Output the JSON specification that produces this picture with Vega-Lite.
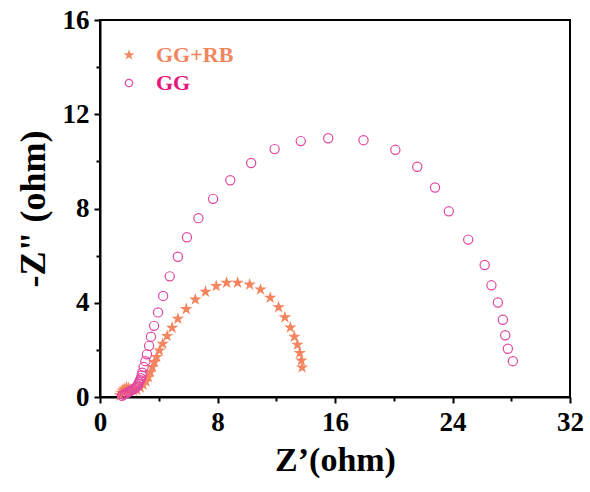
{
  "$schema": "https://vega.github.io/schema/vega-lite/v6.json",
  "width": 470,
  "height": 377,
  "autosize": {"type": "none"},
  "padding": {"left": 100, "top": 20, "right": 20, "bottom": 95},
  "background": "white",
  "config": {
    "view": {"stroke": "black", "strokeWidth": 2},
    "font": "Liberation Serif"
  },
  "data": {
    "values": [
      {"s": "GG+RB", "x": 1.37, "y": 0.07},
      {"s": "GG+RB", "x": 1.45, "y": 0.18},
      {"s": "GG+RB", "x": 1.55, "y": 0.28},
      {"s": "GG+RB", "x": 1.65, "y": 0.35},
      {"s": "GG+RB", "x": 1.8, "y": 0.4},
      {"s": "GG+RB", "x": 1.94, "y": 0.38},
      {"s": "GG+RB", "x": 2.1, "y": 0.32},
      {"s": "GG+RB", "x": 2.29, "y": 0.27},
      {"s": "GG+RB", "x": 2.5, "y": 0.3},
      {"s": "GG+RB", "x": 2.75, "y": 0.4},
      {"s": "GG+RB", "x": 2.93, "y": 0.52},
      {"s": "GG+RB", "x": 3.13, "y": 0.66},
      {"s": "GG+RB", "x": 3.29, "y": 0.84},
      {"s": "GG+RB", "x": 3.43, "y": 1.05},
      {"s": "GG+RB", "x": 3.57, "y": 1.27},
      {"s": "GG+RB", "x": 3.7, "y": 1.48},
      {"s": "GG+RB", "x": 3.86, "y": 1.7},
      {"s": "GG+RB", "x": 4.05, "y": 1.97},
      {"s": "GG+RB", "x": 4.27, "y": 2.26},
      {"s": "GG+RB", "x": 4.57, "y": 2.59},
      {"s": "GG+RB", "x": 4.91, "y": 2.94},
      {"s": "GG+RB", "x": 5.3, "y": 3.32},
      {"s": "GG+RB", "x": 5.87, "y": 3.73},
      {"s": "GG+RB", "x": 6.49, "y": 4.14},
      {"s": "GG+RB", "x": 7.18, "y": 4.47},
      {"s": "GG+RB", "x": 7.91, "y": 4.71},
      {"s": "GG+RB", "x": 8.62, "y": 4.85},
      {"s": "GG+RB", "x": 9.37, "y": 4.85},
      {"s": "GG+RB", "x": 10.19, "y": 4.77},
      {"s": "GG+RB", "x": 10.93, "y": 4.56},
      {"s": "GG+RB", "x": 11.59, "y": 4.21},
      {"s": "GG+RB", "x": 12.16, "y": 3.81},
      {"s": "GG+RB", "x": 12.59, "y": 3.38},
      {"s": "GG+RB", "x": 12.96, "y": 2.95},
      {"s": "GG+RB", "x": 13.23, "y": 2.56},
      {"s": "GG+RB", "x": 13.44, "y": 2.22},
      {"s": "GG+RB", "x": 13.6, "y": 1.87},
      {"s": "GG+RB", "x": 13.71, "y": 1.55},
      {"s": "GG+RB", "x": 13.76, "y": 1.25},
      {"s": "GG", "x": 1.5, "y": 0.05},
      {"s": "GG", "x": 1.6, "y": 0.1},
      {"s": "GG", "x": 1.71, "y": 0.13},
      {"s": "GG", "x": 1.82, "y": 0.17},
      {"s": "GG", "x": 1.94, "y": 0.21},
      {"s": "GG", "x": 2.05, "y": 0.25},
      {"s": "GG", "x": 2.17, "y": 0.3},
      {"s": "GG", "x": 2.28, "y": 0.34},
      {"s": "GG", "x": 2.4, "y": 0.38},
      {"s": "GG", "x": 2.49, "y": 0.43},
      {"s": "GG", "x": 2.56, "y": 0.49},
      {"s": "GG", "x": 2.62, "y": 0.56},
      {"s": "GG", "x": 2.67, "y": 0.63},
      {"s": "GG", "x": 2.73, "y": 0.71},
      {"s": "GG", "x": 2.79, "y": 0.8},
      {"s": "GG", "x": 2.84, "y": 0.91},
      {"s": "GG", "x": 2.88, "y": 1.03},
      {"s": "GG", "x": 2.97, "y": 1.27},
      {"s": "GG", "x": 3.09, "y": 1.52},
      {"s": "GG", "x": 3.2, "y": 1.81},
      {"s": "GG", "x": 3.34, "y": 2.17},
      {"s": "GG", "x": 3.47, "y": 2.56},
      {"s": "GG", "x": 3.68, "y": 3.02},
      {"s": "GG", "x": 3.95, "y": 3.59},
      {"s": "GG", "x": 4.3, "y": 4.29},
      {"s": "GG", "x": 4.75, "y": 5.12},
      {"s": "GG", "x": 5.3, "y": 5.95},
      {"s": "GG", "x": 5.92, "y": 6.78},
      {"s": "GG", "x": 6.7, "y": 7.59},
      {"s": "GG", "x": 7.7, "y": 8.41},
      {"s": "GG", "x": 8.87, "y": 9.2},
      {"s": "GG", "x": 10.29, "y": 9.93},
      {"s": "GG", "x": 11.89, "y": 10.52},
      {"s": "GG", "x": 13.67, "y": 10.86},
      {"s": "GG", "x": 15.54, "y": 10.98},
      {"s": "GG", "x": 17.94, "y": 10.9},
      {"s": "GG", "x": 20.11, "y": 10.49},
      {"s": "GG", "x": 21.6, "y": 9.77},
      {"s": "GG", "x": 22.81, "y": 8.89},
      {"s": "GG", "x": 23.75, "y": 7.88},
      {"s": "GG", "x": 25.07, "y": 6.68},
      {"s": "GG", "x": 26.19, "y": 5.6},
      {"s": "GG", "x": 26.65, "y": 4.74},
      {"s": "GG", "x": 27.09, "y": 4.01},
      {"s": "GG", "x": 27.43, "y": 3.28},
      {"s": "GG", "x": 27.59, "y": 2.62},
      {"s": "GG", "x": 27.77, "y": 2.05},
      {"s": "GG", "x": 28.11, "y": 1.52}
    ]
  },
  "mark": {"type": "point", "strokeWidth": 1.2, "opacity": 1, "size": 85},
  "encoding": {
    "x": {
      "field": "x", "type": "quantitative",
      "scale": {"domain": [0, 32], "nice": false},
      "axis": {
        "title": "Z’(ohm)",
        "values": [0, 4, 8, 12, 16, 20, 24, 28, 32],
        "labelExpr": "datum.value % 8 === 0 ? datum.label : ''",
        "tickSize": {"condition": {"test": "datum.value % 8 === 0", "value": 6}, "value": 4},
        "grid": false,
        "domainColor": "black", "domainWidth": 2,
        "tickColor": "black", "tickWidth": 2,
        "labelFont": "Liberation Serif", "labelFontSize": 27, "labelFontWeight": "bold", "labelColor": "black",
        "labelPadding": 6, "labelFlush": false,
        "titleFont": "Liberation Serif", "titleFontSize": 34, "titleFontWeight": "bold", "titleColor": "black",
        "titlePadding": 8
      }
    },
    "y": {
      "field": "y", "type": "quantitative",
      "scale": {"domain": [0, 16], "nice": false},
      "axis": {
        "title": "-Z\" (ohm)",
        "values": [0, 2, 4, 6, 8, 10, 12, 14, 16],
        "labelExpr": "datum.value % 4 === 0 ? datum.label : ''",
        "tickSize": {"condition": {"test": "datum.value % 4 === 0", "value": 6}, "value": 4},
        "grid": false,
        "domainColor": "black", "domainWidth": 2,
        "tickColor": "black", "tickWidth": 2,
        "labelFont": "Liberation Serif", "labelFontSize": 27, "labelFontWeight": "bold", "labelColor": "black",
        "labelPadding": 5, "labelFlush": false,
        "titleFont": "Liberation Serif", "titleFontSize": 36, "titleFontWeight": "bold", "titleColor": "black",
        "titlePadding": 10
      }
    },
    "shape": {
      "field": "s", "type": "nominal",
      "scale": {"domain": ["GG+RB", "GG"], "range": ["M0,-1L0.2245,-0.309L0.951,-0.309L0.363,0.118L0.588,0.809L0,0.382L-0.588,0.809L-0.363,0.118L-0.951,-0.309L-0.2245,-0.309Z", "circle"]},
      "legend": {
        "title": null,
        "orient": "none",
        "legendX": 18,
        "legendY": 24,
        "symbolSize": 55,
        "labelFont": "Liberation Serif", "labelFontSize": 22, "labelFontWeight": "bold",
        "labelColor": {"expr": "datum.label === 'GG' ? '#E8157C' : '#F08660'"},
        "labelOffset": 16,
        "rowPadding": 6,
        "symbolStrokeWidth": 1.2
      }
    },
    "stroke": {
      "field": "s", "type": "nominal",
      "scale": {"domain": ["GG+RB", "GG"], "range": ["#F4855E", "#E2479F"]},
      "legend": null
    },
    "fill": {
      "field": "s", "type": "nominal",
      "scale": {"domain": ["GG+RB", "GG"], "range": ["#F4855E", "transparent"]},
      "legend": null
    }
  }
}
